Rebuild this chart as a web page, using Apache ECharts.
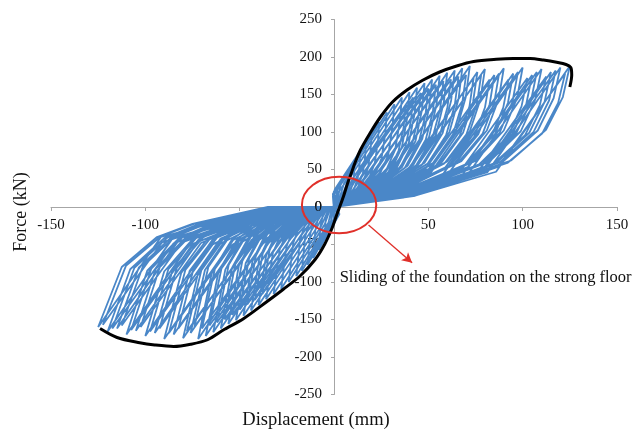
<!DOCTYPE html>
<html><head><meta charset="utf-8">
<script src="https://cdn.jsdelivr.net/npm/echarts@6/dist/echarts.min.js"></script>
<style>html,body{margin:0;padding:0;background:#fff}#c{width:643px;height:432px}</style>
</head><body><div id="c"></div>
<script>
// Axis ticks
const xTicks = [-150, -100, -50, 0, 50, 100, 150];
const yTicks = [-250, -200, -150, -100, -50, 0, 50, 100, 150, 200, 250];
const xTitle = 'Displacement (mm)';
const yTitle = 'Force (kN)';
const noteText = 'Sliding of the foundation on the strong floor';

// Positive half-cycles (displacement mm, force kN): reload curve -> peak -> unload
const posLoops = [
 [[1.5,1.4],[3.8,6.6],[4.5,11],[4.9,15.6],[5,20],[0.8,5],[0.4,1.6]],
 [[2.4,2.8],[6,13.2],[7.2,22],[7.8,31],[8,40],[-0.3,10],[-0.2,3.2]],
 [[3.3,3.9],[8.3,18.5],[9.9,30.8],[10.7,44.5],[11,58],[-0.6,14],[-0.3,4.5]],
 [[4.2,4.9],[10.5,23],[12.6,38.5],[13.6,57],[14,74],[-0.6,17.5],[-0.3,5.6]],
 [[5.1,5.7],[12.8,27],[15.3,45],[16.5,67],[17,87],[-0.1,20.5],[0,6.6]],
 [[6,6.6],[15,31],[18,52],[19.4,76],[20,98],[0.4,23.5],[0.2,7.5]],
 [[7.2,7.4],[18,35],[21.6,58],[23.3,88],[24,113],[2,26.5],[1,8.5]],
 [[8.4,8.3],[21,39],[25.2,65],[27.2,98],[28,126],[3.5,29.5],[1.8,9.4]],
 [[9.6,9],[24,42],[28.8,70],[31,107],[32,137],[5.4,32],[2.7,10.2]],
 [[10.8,9.7],[27,45.5],[32.4,76],[34.9,114],[36,146],[7.3,34.5],[3.7,11]],
 [[12,10.2],[30,48],[36,80],[38.8,119],[40,153],[9.6,36.5],[4.8,11.7]],
 [[13.2,10.8],[33,51],[39.6,85],[42.7,124],[44,159],[12,38.5],[6,12.3]],
 [[14.4,11.2],[36,53],[43.2,88],[46.6,129],[48,165],[14.7,40],[7.4,12.8]],
 [[15.6,11.6],[39,55],[46.8,91],[50.4,132],[52,170],[17.5,41.5],[8.8,13.3]],
 [[16.8,11.9],[42,56],[50.4,93.5],[54.3,136],[56,175],[20.6,42.5],[10.3,13.6]],
 [[18,12.3],[45,58],[54,96],[58.2,139.6],[60,179],[23.6,43.8],[11.8,14]],
 [[19.2,12.5],[48,59],[57.6,98.5],[62.1,142],[64,182],[26.8,44.8],[13.4,14.3]],
 [[20.4,12.7],[51,60],[61.2,100],[66,144],[68,185],[30.1,45.5],[15,14.6]],
 [[21.6,13],[54,61],[64.8,102],[69.8,146],[72,188],[33.5,46.3],[16.8,14.8]],
 [[22.8,12.6],[57,59.4],[68.4,99],[73.7,140],[76,180],[38.6,45],[19.3,14.4]],
 [[24,12.9],[60,60.7],[72,101],[77.6,143.5],[80,184],[41.7,46],[20.9,14.7]],
 [[25.5,12.3],[63.8,58],[76.5,97],[82.5,137],[85,176],[48.4,44],[24.2,14.1]],
 [[27,13],[67.5,61],[81,102],[87.3,144],[90,185],[51.5,46.3],[25.8,14.8]],
 [[28.5,12.5],[71.3,58.7],[85.5,98],[92.2,139],[95,178],[58,44.5],[29,14.2]],
 [[30,13],[75,61.4],[90,102],[97,145],[100,186],[61.3,46.5],[30.7,14.9]],
 [[31.5,12.3],[78.8,58],[94.5,97],[101.9,137],[105,176],[68.4,44],[34.2,14.1]],
 [[33,12.9],[82.5,60.7],[99,101],[106.7,143.5],[110,184],[71.7,46],[35.9,14.7]],
 [[34.5,12.6],[86.3,59.4],[103.5,99],[111.6,140],[115,180],[77.6,45],[38.8,14.4]],
 [[36,13],[90,61.4],[108,102],[116.4,145],[120,186],[81.3,46.5],[40.7,14.9]],
 [[37.5,13.2],[93.8,62],[112.5,103.4],[121.3,146.6],[125,188],[85.9,47],[43,15]]
];

// Negative half-cycles
const negLoops = [
 [[-1.4,0],[-3,-5.3],[-3.8,-9.5],[-4.5,-20],[-5,-44],[2.9,-9.5],[1.5,-2.3]],
 [[-2.2,0],[-4.8,-6.7],[-6,-12],[-7.2,-26],[-8,-57],[2,-12],[1,-2.9]],
 [[-3.1,0],[-6.6,-7.8],[-8.3,-14],[-9.9,-31],[-11,-68],[0.6,-14],[0.3,-3.4]],
 [[-3.9,0],[-8.4,-9.2],[-10.5,-16.5],[-12.6,-36],[-14,-77],[-0.3,-16.5],[-0.2,-4]],
 [[-4.8,0],[-10.2,-10.4],[-12.8,-18.5],[-15.3,-40],[-17,-85],[-1.6,-18.5],[-0.8,-4.4]],
 [[-5.6,0],[-12,-11.5],[-15,-20.5],[-18,-44],[-20,-92],[-2.9,-20.5],[-1.5,-4.9]],
 [[-6.7,0],[-14.4,-12.9],[-18,-23],[-21.6,-48],[-24,-100],[-4.9,-23],[-2.5,-5.5]],
 [[-7.8,0],[-16.8,-14.3],[-21,-25.5],[-25.2,-53],[-28,-109],[-6.8,-25.5],[-3.4,-6.1]],
 [[-9,0],[-19.2,-15.4],[-24,-27.5],[-28.8,-57],[-32,-116],[-9.1,-27.5],[-4.6,-6.6]],
 [[-10,0],[-21.6,-16.5],[-27,-29.5],[-32.4,-61],[-36,-123],[-11.5,-29.5],[-5.8,-7.1]],
 [[-11.2,0],[-24,-17.6],[-30,-31.5],[-36,-65],[-40,-131],[-13.8,-31.5],[-6.9,-7.6]],
 [[-12.3,0],[-26.4,-18.6],[-33,-33],[-39.6,-68.5],[-44,-138],[-16.3,-33],[-8.2,-8]],
 [[-13.4,0],[-28.8,-19.6],[-36,-35],[-43.2,-72],[-48,-145],[-18.9,-35],[-9.5,-8.4]],
 [[-14.6,0],[-31.2,-20.4],[-39,-36.5],[-46.8,-75],[-52,-151],[-21.6,-36.5],[-10.8,-8.8]],
 [[-15.7,0],[-33.6,-21.3],[-42,-38],[-50.4,-78],[-56,-156],[-24.4,-38],[-12.2,-9.1]],
 [[-16.8,0],[-36,-22.1],[-45,-39.5],[-54,-81],[-60,-162],[-27.1,-39.5],[-13.6,-9.5]],
 [[-17.9,0],[-38.4,-22.8],[-48,-40.8],[-57.6,-83.5],[-64,-167],[-30.1,-40.8],[-15,-9.8]],
 [[-19,0],[-40.8,-23.5],[-51,-42],[-61.2,-86],[-68,-172],[-33.1,-42],[-16.6,-10.1]],
 [[-20.2,0],[-43.2,-24.1],[-54,-43],[-64.8,-88],[-72,-176],[-36.2,-43],[-18.1,-10.3]],
 [[-21.3,0],[-45.6,-23.5],[-57,-42],[-68.4,-84],[-76,-168],[-41.1,-42],[-20.6,-10.1]],
 [[-22.4,0],[-48,-24.5],[-60,-43.8],[-72,-87.5],[-80,-175],[-43.6,-43.8],[-21.8,-10.5]],
 [[-23.8,0],[-51,-23.8],[-63.8,-42.5],[-76.5,-85],[-85,-170],[-49.6,-42.5],[-24.8,-10.2]],
 [[-25.2,0],[-54,-24.6],[-67.5,-44],[-81,-88],[-90,-176],[-53.4,-44],[-26.7,-10.6]],
 [[-26.6,0],[-57,-23.5],[-71.3,-42],[-85.5,-84],[-95,-168],[-60.1,-42],[-30,-10.1]],
 [[-28,0],[-60,-24.1],[-75,-43],[-90,-86],[-100,-172],[-64.2,-43],[-32.1,-10.3]],
 [[-29.4,0],[-63,-23.1],[-78.8,-41.3],[-94.5,-82.5],[-105,-165],[-70.7,-41.3],[-35.4,-9.9]],
 [[-30.8,0],[-66,-23.8],[-82.5,-42.5],[-99,-85],[-110,-170],[-74.6,-42.5],[-37.3,-10.2]],
 [[-32.2,0],[-69,-22.7],[-86.3,-40.5],[-103.5,-81],[-115,-162],[-81.3,-40.5],[-40.7,-9.7]],
 [[-33.6,0],[-72,-23.2],[-90,-41.5],[-108,-83],[-120,-166],[-85.5,-41.5],[-42.8,-10]],
 [[-35,0],[-75,-22.4],[-93.8,-40],[-112.5,-80],[-125,-160],[-91.7,-40],[-45.9,-9.6]]
];

// Repeated (second) cycles at intermediate amplitudes
const posLoops2 = [
 [[11.4,9.5],[28.5,44.9],[34.2,74.8],[36.9,106],[38,136],[10.8,40.8],[5.4,12.2]],
 [[12.6,10.2],[31.5,48.2],[37.8,80.3],[40.7,113.9],[42,146],[12.8,43.8],[6.4,13.1]],
 [[13.8,10.6],[34.5,50.2],[41.4,83.6],[44.6,118.6],[46,152],[15.6,45.6],[7.8,13.7]],
 [[15,11.1],[37.5,52.1],[45,86.9],[48.5,123.2],[50,158],[18.4,47.4],[9.2,14.2]],
 [[16.2,11.4],[40.5,53.8],[48.6,89.7],[52.4,127.1],[54,163],[21.4,48.9],[10.7,14.7]],
 [[17.4,11.8],[43.5,55.4],[52.2,92.4],[56.3,131],[58,168],[24.4,50.4],[12.2,15.1]],
 [[18.6,11.9],[46.5,56.1],[55.8,93.5],[60.1,132.6],[62,170],[28,51],[14,15.3]],
 [[19.8,12.2],[49.5,57.4],[59.4,95.7],[64,135.7],[66,174],[31.2,52.2],[15.6,15.7]],
 [[21,12.3],[52.5,58.1],[63,96.8],[67.9,137.3],[70,176],[34.8,52.8],[17.4,15.8]],
 [[22.2,12],[55.5,56.8],[66.6,94.6],[71.8,134.2],[74,172],[39.6,51.6],[19.8,15.5]],
 [[23.4,12.3],[58.5,58.1],[70.2,96.8],[75.7,137.3],[78,176],[42.8,52.8],[21.4,15.8]],
 [[24.8,11.9],[61.9,56.1],[74.3,93.5],[80,132.6],[82.5,170],[48.5,51],[24.3,15.3]],
 [[26.3,12.5],[65.6,58.7],[78.8,97.9],[84.9,138.8],[87.5,178],[51.9,53.4],[26,16]],
 [[27.8,11.9],[69.4,56.1],[83.3,93.5],[89.7,132.6],[92.5,170],[58.5,51],[29.3,15.3]],
 [[29.3,12.6],[73.1,59.4],[87.8,99],[94.6,140.4],[97.5,180],[61.5,54],[30.8,16.2]],
 [[30.8,12],[76.9,56.8],[92.3,94.6],[99.4,134.2],[102.5,172],[68.1,51.6],[34,15.5]],
 [[32.3,12.6],[80.6,59.4],[96.8,99],[104.3,140.4],[107.5,180],[71.5,54],[35.8,16.2]],
 [[33.8,12.2],[84.4,57.4],[101.3,95.7],[109.1,135.7],[112.5,174],[77.7,52.2],[38.9,15.7]],
 [[35.3,12.7],[88.1,60.1],[105.8,100.1],[114,142],[117.5,182],[81.1,54.6],[40.6,16.4]],
 [[36.8,12.5],[91.9,58.7],[110.3,97.9],[118.8,138.8],[122.5,178],[86.9,53.4],[43.5,16]]
];
const negLoops2 = [
 [[-10.6,0],[-22.8,-16.2],[-28.5,-29],[-34.2,-58],[-38,-116],[-14.8,-34.8],[-7.4,-8.1]],
 [[-11.8,0],[-25.2,-17.4],[-31.5,-31],[-37.8,-62],[-42,-124],[-17.2,-37.2],[-8.6,-8.7]],
 [[-12.9,0],[-27.6,-18.2],[-34.5,-32.5],[-41.4,-65],[-46,-130],[-20,-39],[-10,-9.1]],
 [[-14,0],[-30,-19.2],[-37.5,-34.3],[-45,-68.5],[-50,-137],[-22.6,-41.1],[-11.3,-9.6]],
 [[-15.1,0],[-32.4,-20.2],[-40.5,-36],[-48.6,-72],[-54,-144],[-25.2,-43.2],[-12.6,-10.1]],
 [[-16.2,0],[-34.8,-21],[-43.5,-37.5],[-52.2,-75],[-58,-150],[-28,-45],[-14,-10.5]],
 [[-17.4,0],[-37.2,-21.6],[-46.5,-38.5],[-55.8,-77],[-62,-154],[-31.2,-46.2],[-15.6,-10.8]],
 [[-18.5,0],[-39.6,-22.1],[-49.5,-39.5],[-59.4,-79],[-66,-158],[-34.4,-47.4],[-17.2,-11.1]],
 [[-19.6,0],[-42,-22.7],[-52.5,-40.5],[-63,-81],[-70,-162],[-37.6,-48.6],[-18.8,-11.3]],
 [[-20.7,0],[-44.4,-22.4],[-55.5,-40],[-66.6,-80],[-74,-160],[-42,-48],[-21,-11.2]],
 [[-21.8,0],[-46.8,-23.2],[-58.5,-41.5],[-70.2,-83],[-78,-166],[-44.8,-49.8],[-22.4,-11.6]],
 [[-23.1,0],[-49.5,-22.7],[-61.9,-40.5],[-74.3,-81],[-82.5,-162],[-50.1,-48.6],[-25,-11.3]],
 [[-24.5,0],[-52.5,-23.5],[-65.6,-42],[-78.8,-84],[-87.5,-168],[-53.9,-50.4],[-27,-11.8]],
 [[-25.9,0],[-55.5,-22.7],[-69.4,-40.5],[-83.3,-81],[-92.5,-162],[-60.1,-48.6],[-30,-11.3]],
 [[-27.3,0],[-58.5,-23.2],[-73.1,-41.5],[-87.8,-83],[-97.5,-166],[-64.3,-49.8],[-32.2,-11.6]],
 [[-28.7,0],[-61.5,-22.4],[-76.9,-40],[-92.3,-80],[-102.5,-160],[-70.5,-48],[-35.3,-11.2]],
 [[-30.1,0],[-64.5,-23],[-80.6,-41],[-96.8,-82],[-107.5,-164],[-74.7,-49.2],[-37.4,-11.5]],
 [[-31.5,0],[-67.5,-22.1],[-84.4,-39.5],[-101.3,-79],[-112.5,-158],[-80.9,-47.4],[-40.5,-11.1]],
 [[-32.9,0],[-70.5,-22.7],[-88.1,-40.5],[-105.8,-81],[-117.5,-162],[-85.1,-48.6],[-42.6,-11.3]],
 [[-34.3,0],[-73.5,-22],[-91.9,-39.3],[-110.3,-78.5],[-122.5,-157],[-91.1,-47.1],[-45.6,-11]]
];

// Backbone (envelope) curve
const envelope = [[-124,-162],[-115,-174],[-103,-181],[-95,-184],[-85,-186],[-76,-183],[-67,-177],
 [-58,-163],[-48,-149],[-36,-127],[-27,-110],[-18,-92],[-10,-70],[-5,-50],[-1,-28],[1.5,-10],[3,0],
 [5,14],[7,30],[9,44],[11.3,60],[14,76],[19,98],[24.6,120],[31,140],[38.7,156],[47,169],[56,180],
 [65,188],[74,194],[86,197],[95,198],[104,198],[111,196],[118,193],[123,190],[125.5,186],[126,176],[125,160]];

// Annotation (data coordinates)
const circleCenter = [2.7, 2.7];
const circleRadii = [19.7, 37.7];
const arrowFrom = [18.3, -24];
const arrowTo = [41.4, -74.3];
const notePos = [3.0, -94.7];

const font = '"Liberation Serif","Times New Roman",serif';
const axisGray = '#a6a6a6';

const path = [[0,0]];
for (let i = 0; i < posLoops.length; i++) {
  path.push(...posLoops[i], [0,0], ...negLoops[i], [0,0]);
}
for (let i = 0; i < posLoops2.length; i++) {
  path.push(...posLoops2[i], [0,0], ...negLoops2[i], [0,0]);
}

const G = {left: 51, right: 26, top: 19.5, bottom: 37.5};
const W = 643 - G.left - G.right, H = 432 - G.top - G.bottom;
// place axes through the origin
const xOff = -H * (0 - yTicks[0]) / (yTicks[yTicks.length-1] - yTicks[0]);
const yOff = -W * (0 - xTicks[0]) / (xTicks[xTicks.length-1] - xTicks[0]);

const chart = echarts.init(document.getElementById('c'));
chart.setOption({
  animation: false,
  backgroundColor: '#fff',
  grid: {left: G.left, right: G.right, top: G.top, bottom: G.bottom, containLabel: false, outerBoundsMode: 'none'},
  xAxis: {
    type: 'value', min: xTicks[0], max: xTicks[xTicks.length-1], interval: 50,
    position: 'bottom', offset: xOff, z: 1,
    axisLine: {show: true, onZero: false, lineStyle: {color: axisGray, width: 1}},
    axisTick: {show: true, length: 4, lineStyle: {color: axisGray}},
    splitLine: {show: false},
    axisLabel: {margin: 11, color: '#111', fontFamily: font, fontSize: 15,
      formatter: v => v === 0 ? '' : String(v)}
  },
  yAxis: {
    type: 'value', min: yTicks[0], max: yTicks[yTicks.length-1], interval: 50,
    position: 'left', offset: yOff, z: 1,
    axisLine: {show: true, onZero: false, lineStyle: {color: axisGray, width: 1}},
    axisTick: {show: true, length: 3, lineStyle: {color: axisGray}},
    splitLine: {show: false},
    axisLabel: {margin: 12, color: '#111', fontFamily: font, fontSize: 15}
  },
  series: [
    {type: 'line', data: path, showSymbol: false, silent: true, z: 2,
     lineStyle: {color: '#4a87c8', width: 1.8}},
    {type: 'line', data: envelope, showSymbol: false, silent: true, z: 3, smooth: 0.3,
     lineStyle: {color: '#000', width: 3},
     markLine: {silent: true, symbol: ['none', 'arrow'], symbolSize: [8, 10], animation: false,
       label: {show: false},
       lineStyle: {color: '#e0302a', width: 1.3, type: 'solid'},
       data: [[{coord: arrowFrom}, {coord: arrowTo}]]}}
  ]
});

const c0 = chart.convertToPixel({gridIndex: 0}, circleCenter);
const cR = chart.convertToPixel({gridIndex: 0}, [circleCenter[0] + circleRadii[0], circleCenter[1] - circleRadii[1]]);
const np = chart.convertToPixel({gridIndex: 0}, notePos);
const zeroPx = chart.convertToPixel({gridIndex: 0}, [0, 0]);

chart.setOption({
  graphic: [
    {type: 'text', z: 50, x: zeroPx[0] - 12, y: zeroPx[1],
     style: {text: '0', fontFamily: font, fontSize: 15, fill: '#111', align: 'right', verticalAlign: 'middle'}},
    {type: 'ellipse', z: 100, shape: {cx: c0[0], cy: c0[1], rx: cR[0] - c0[0], ry: cR[1] - c0[1]},
     style: {fill: 'none', stroke: '#e0302a', lineWidth: 2}},
    {type: 'text', z: 100, x: np[0], y: np[1],
     style: {text: noteText, fontFamily: font, fontSize: 16.5, fill: '#111', align: 'left', verticalAlign: 'middle'}},
    {type: 'text', z: 100, x: 316, y: 420,
     style: {text: xTitle, fontFamily: font, fontSize: 18.5, fill: '#111', align: 'center', verticalAlign: 'middle'}},
    {type: 'text', z: 100, x: 21, y: 212, rotation: Math.PI / 2,
     style: {text: yTitle, fontFamily: font, fontSize: 18, fill: '#111', align: 'center', verticalAlign: 'middle'}}
  ]
});
</script>
</body></html>
